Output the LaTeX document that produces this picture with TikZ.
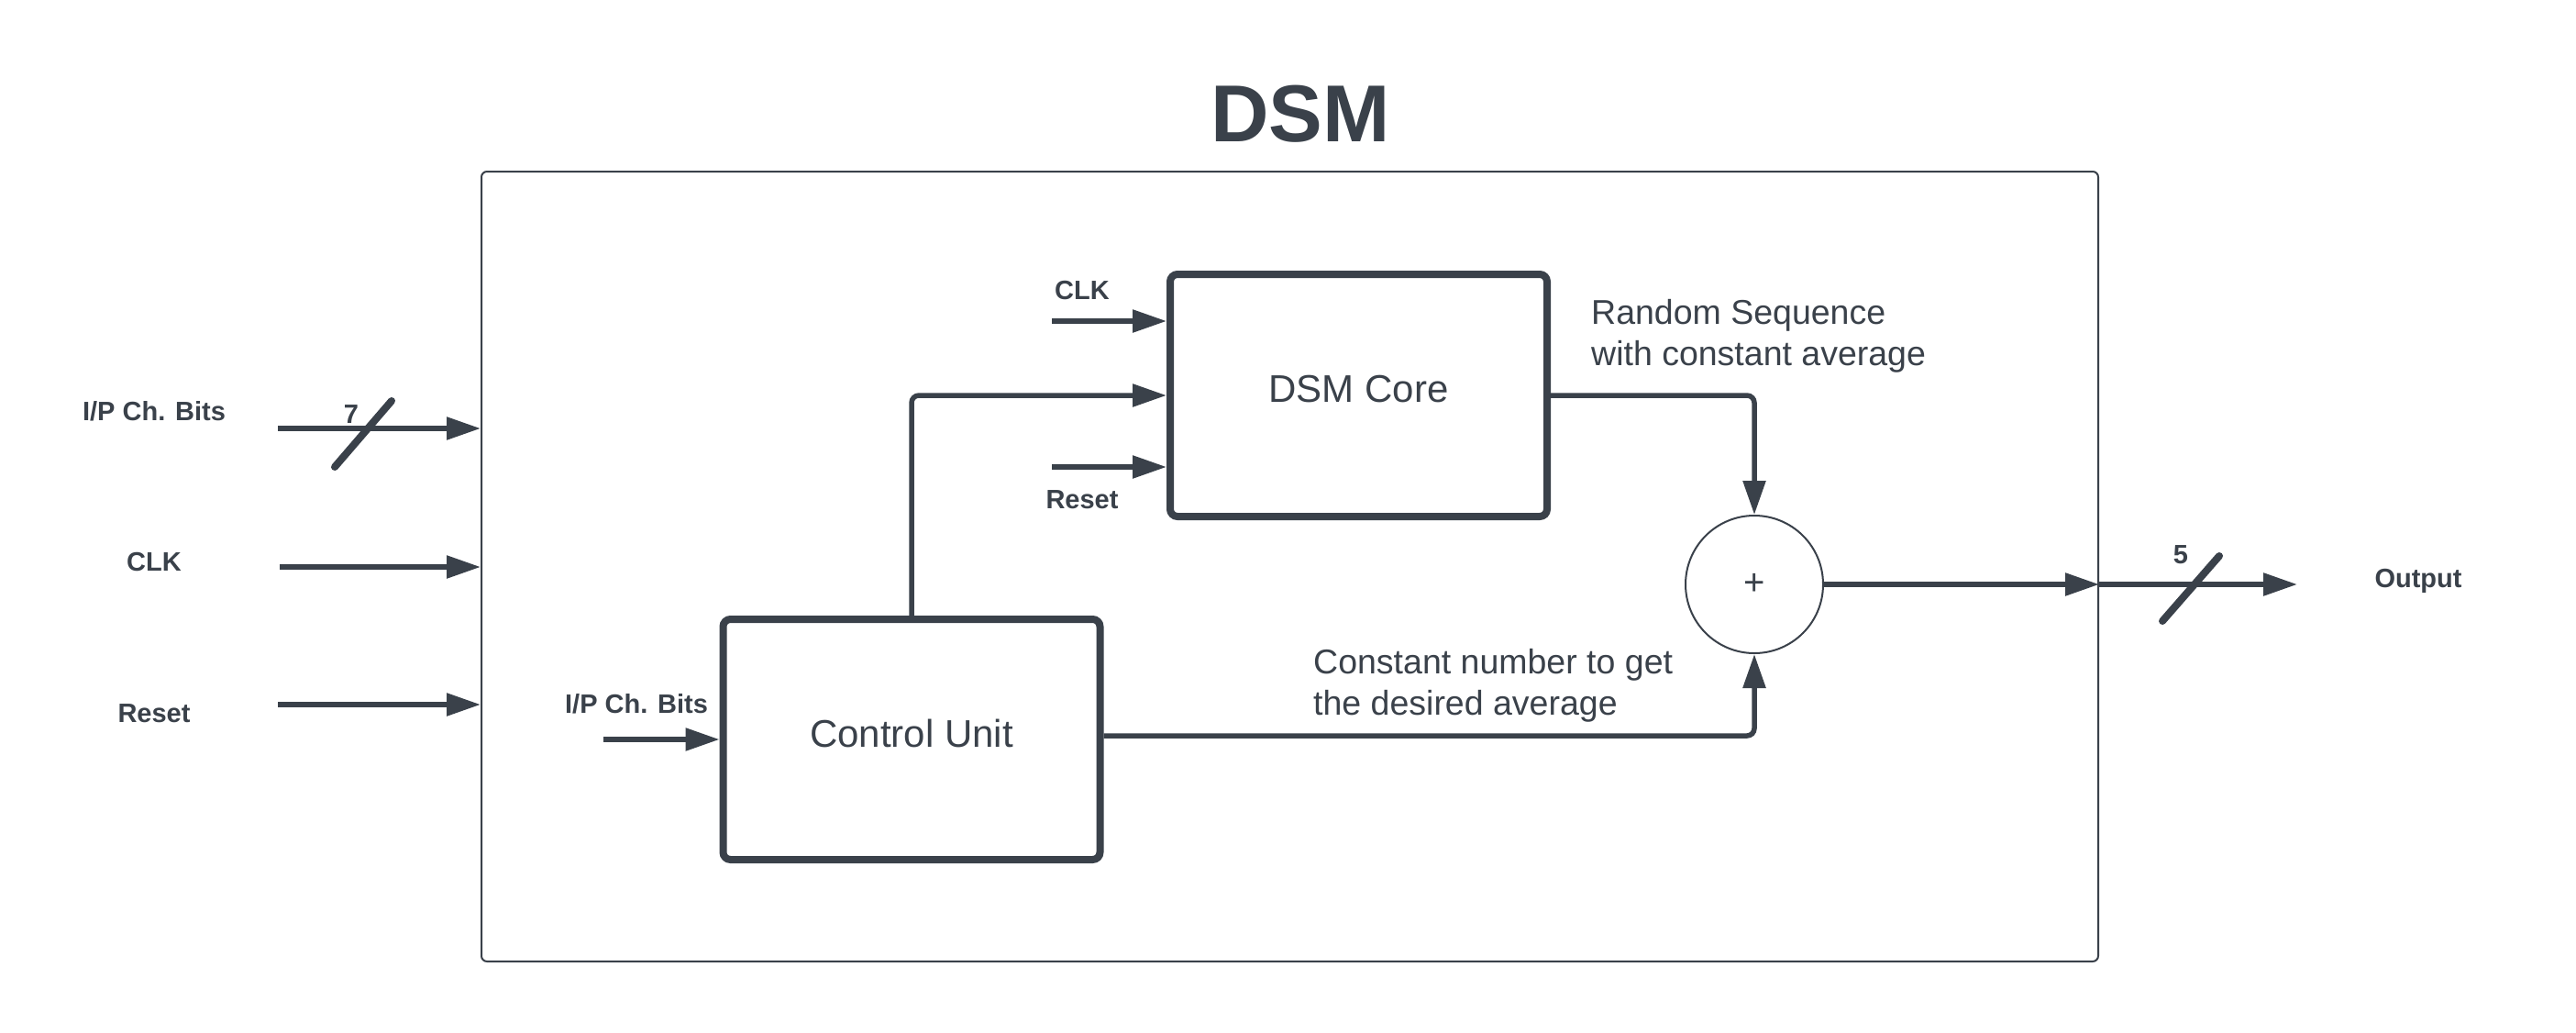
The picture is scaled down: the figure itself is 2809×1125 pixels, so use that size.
\documentclass[tikz,border=0pt]{standalone}
\usepackage{fontspec}
\setmainfont{Liberation Sans}
\usetikzlibrary{arrows.meta}
\definecolor{ink}{RGB}{58,65,74}
\begin{document}
\begin{tikzpicture}[x=1pt,y=-1pt,
  every node/.style={text=ink},
  conn/.style={draw=ink,line width=5.5pt,-{Triangle[length=37pt,width=24pt]}},
  route/.style={conn,rounded corners=8pt},
  slash/.style={draw=ink,line width=8pt,line cap=round},
  blk/.style={draw=ink,line width=8pt,rounded corners=8pt,minimum width=411pt,minimum height=264pt,inner sep=0pt,text depth=14pt,font=\fontsize{42}{48}\selectfont},
  lab/.style={inner sep=0pt,font=\fontsize{29}{33}\selectfont\bfseries},
  note/.style={inner sep=0pt,align=left,anchor=west,font=\fontsize{37.5}{45}\selectfont}]
\useasboundingbox[fill=white] (0,0) rectangle (2809,1125);

% title and outer box
\node[inner sep=0pt,font=\fontsize{88}{92}\selectfont\bfseries] (title) at (1418,124) {DSM};
\node[draw=ink,line width=2pt,rounded corners=6pt,minimum width=1763pt,minimum height=861pt,inner sep=0pt] (dsm) at (1406.5,617.5) {};

% blocks
\node[blk] (core) at (1481.5,431) {DSM Core};
\node[blk,minimum height=262pt] (cu) at (994,806) {Control Unit};
\node[draw=ink,line width=2pt,circle,minimum size=150pt,inner sep=0pt,font=\fontsize{40}{44}\selectfont] (sum) at (1913,637) {+};

% outer inputs
\node[lab] (lip) at (168,448) {I/P Ch. Bits};
\node[lab] (lclk) at (168,613) {CLK};
\node[lab] (lrst) at (168,778) {Reset};
\coordinate (s1) at (303,467);
\coordinate (s2) at (305,618);
\coordinate (s3) at (303,768);
\draw[conn] (s1) -- (s1 -| dsm.west);
\draw[conn] (s2) -- (s2 -| dsm.west);
\draw[conn] (s3) -- (s3 -| dsm.west);
\draw[slash] (365,509) -- (427,437);
\node[lab] (n7) at (383,452) {7};

% core inputs
\coordinate (cclk) at (1147,350);
\coordinate (crst) at (1147,509);
\node[lab] (lcclk) at (1180,317) {CLK};
\node[lab] (lcrst) at (1180,545) {Reset};
\draw[conn] (cclk) -- (cclk -| core.west);
\draw[conn] (crst) -- (crst -| core.west);

% control unit input
\coordinate (cuin) at (658,806);
\node[lab] (lcuin) at (694,767) {I/P Ch. Bits};
\draw[conn] (cuin) -- (cu.west);

% control unit to core
\draw[route] (cu.north) |- (core.west);

% core to summer
\draw[route] (core.east) -| (sum.north);
\node[note] (rnd) at (1735,366) {Random Sequence\\with constant average};

% control unit to summer
\draw[route] ([yshift=4pt]cu.east) -| (sum.south);
\node[note] (cst) at (1432,747) {Constant number to get\\the desired average};

% output
\draw[conn] (sum.east) -- (sum.east -| dsm.east);
\coordinate (oend) at (2505,637);
\draw[conn] (sum.east -| dsm.east) -- (oend);
\draw[slash] (2358,677) -- (2420,606);
\node[lab] (n5) at (2378,605) {5};
\node[lab] (lout) at (2637,633) {Output};
\end{tikzpicture}
\end{document}
